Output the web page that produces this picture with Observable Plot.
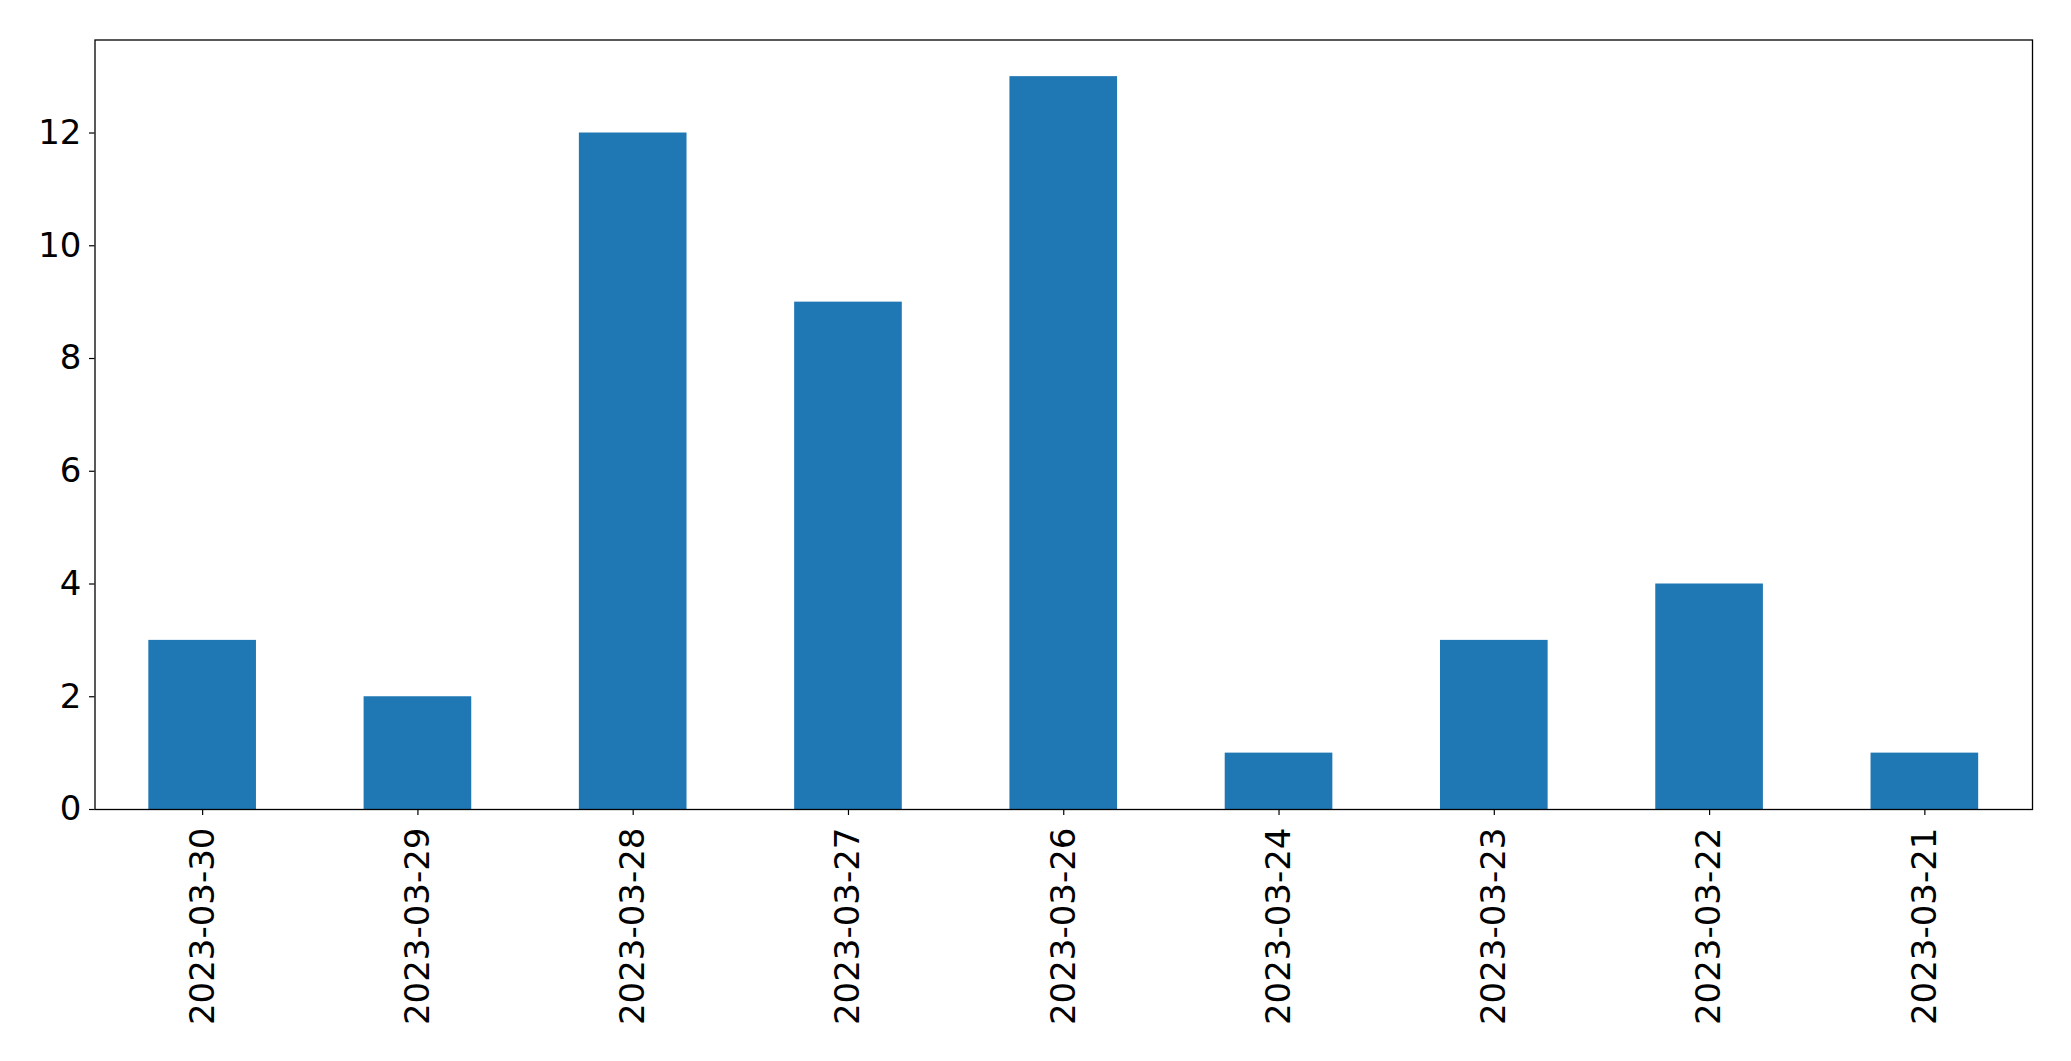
<!DOCTYPE html>
<html>
<head>
<meta charset="utf-8">
<script src="https://cdn.jsdelivr.net/npm/d3@7"></script>
<script src="https://cdn.jsdelivr.net/npm/@observablehq/plot@0.6"></script>
<style>
  html, body { margin: 0; padding: 0; background: #fff; overflow: hidden; }
  #chart svg { display: block; }
</style>
</head>
<body>
<div id="chart"></div>
<script>
const dates = ["2023-03-30", "2023-03-29", "2023-03-28", "2023-03-27", "2023-03-26", "2023-03-24", "2023-03-23", "2023-03-22", "2023-03-21"];
const counts = [3, 2, 12, 9, 13, 1, 3, 4, 1];
const yTicks = [0, 2, 4, 6, 8, 10, 12];

const data = dates.map((d, i) => ({date: d, count: counts[i]}));

const chart = Plot.plot({
  width: 2071,
  height: 1061,
  marginLeft: 94.5,
  marginRight: 39,
  marginTop: 39.5,
  marginBottom: 252,
  style: {fontFamily: "DejaVu Sans", fontSize: "34px", color: "#000", background: "#fff"},
  x: {domain: dates, paddingInner: 0.5, paddingOuter: 0.25, round: false, label: null},
  y: {domain: [0, 13 * 1.05], label: null},
  marks: [
    Plot.barY(data, {x: "date", y: "count", fill: "#1f77b4"}),
    Plot.axisY({ticks: yTicks, tickSize: 5.5, tickPadding: 8, fontSize: 34, stroke: "#000", strokeWidth: 1.2, strokeOpacity: 1}),
    Plot.axisX({tickSize: 6, tickPadding: 12, tickRotate: -90, fontSize: 34, stroke: "#000", strokeWidth: 1.2, strokeOpacity: 1}),
    Plot.frame({stroke: "#000", strokeWidth: 1.3})
  ]
});
document.getElementById("chart").appendChild(chart);
</script>
</body>
</html>
